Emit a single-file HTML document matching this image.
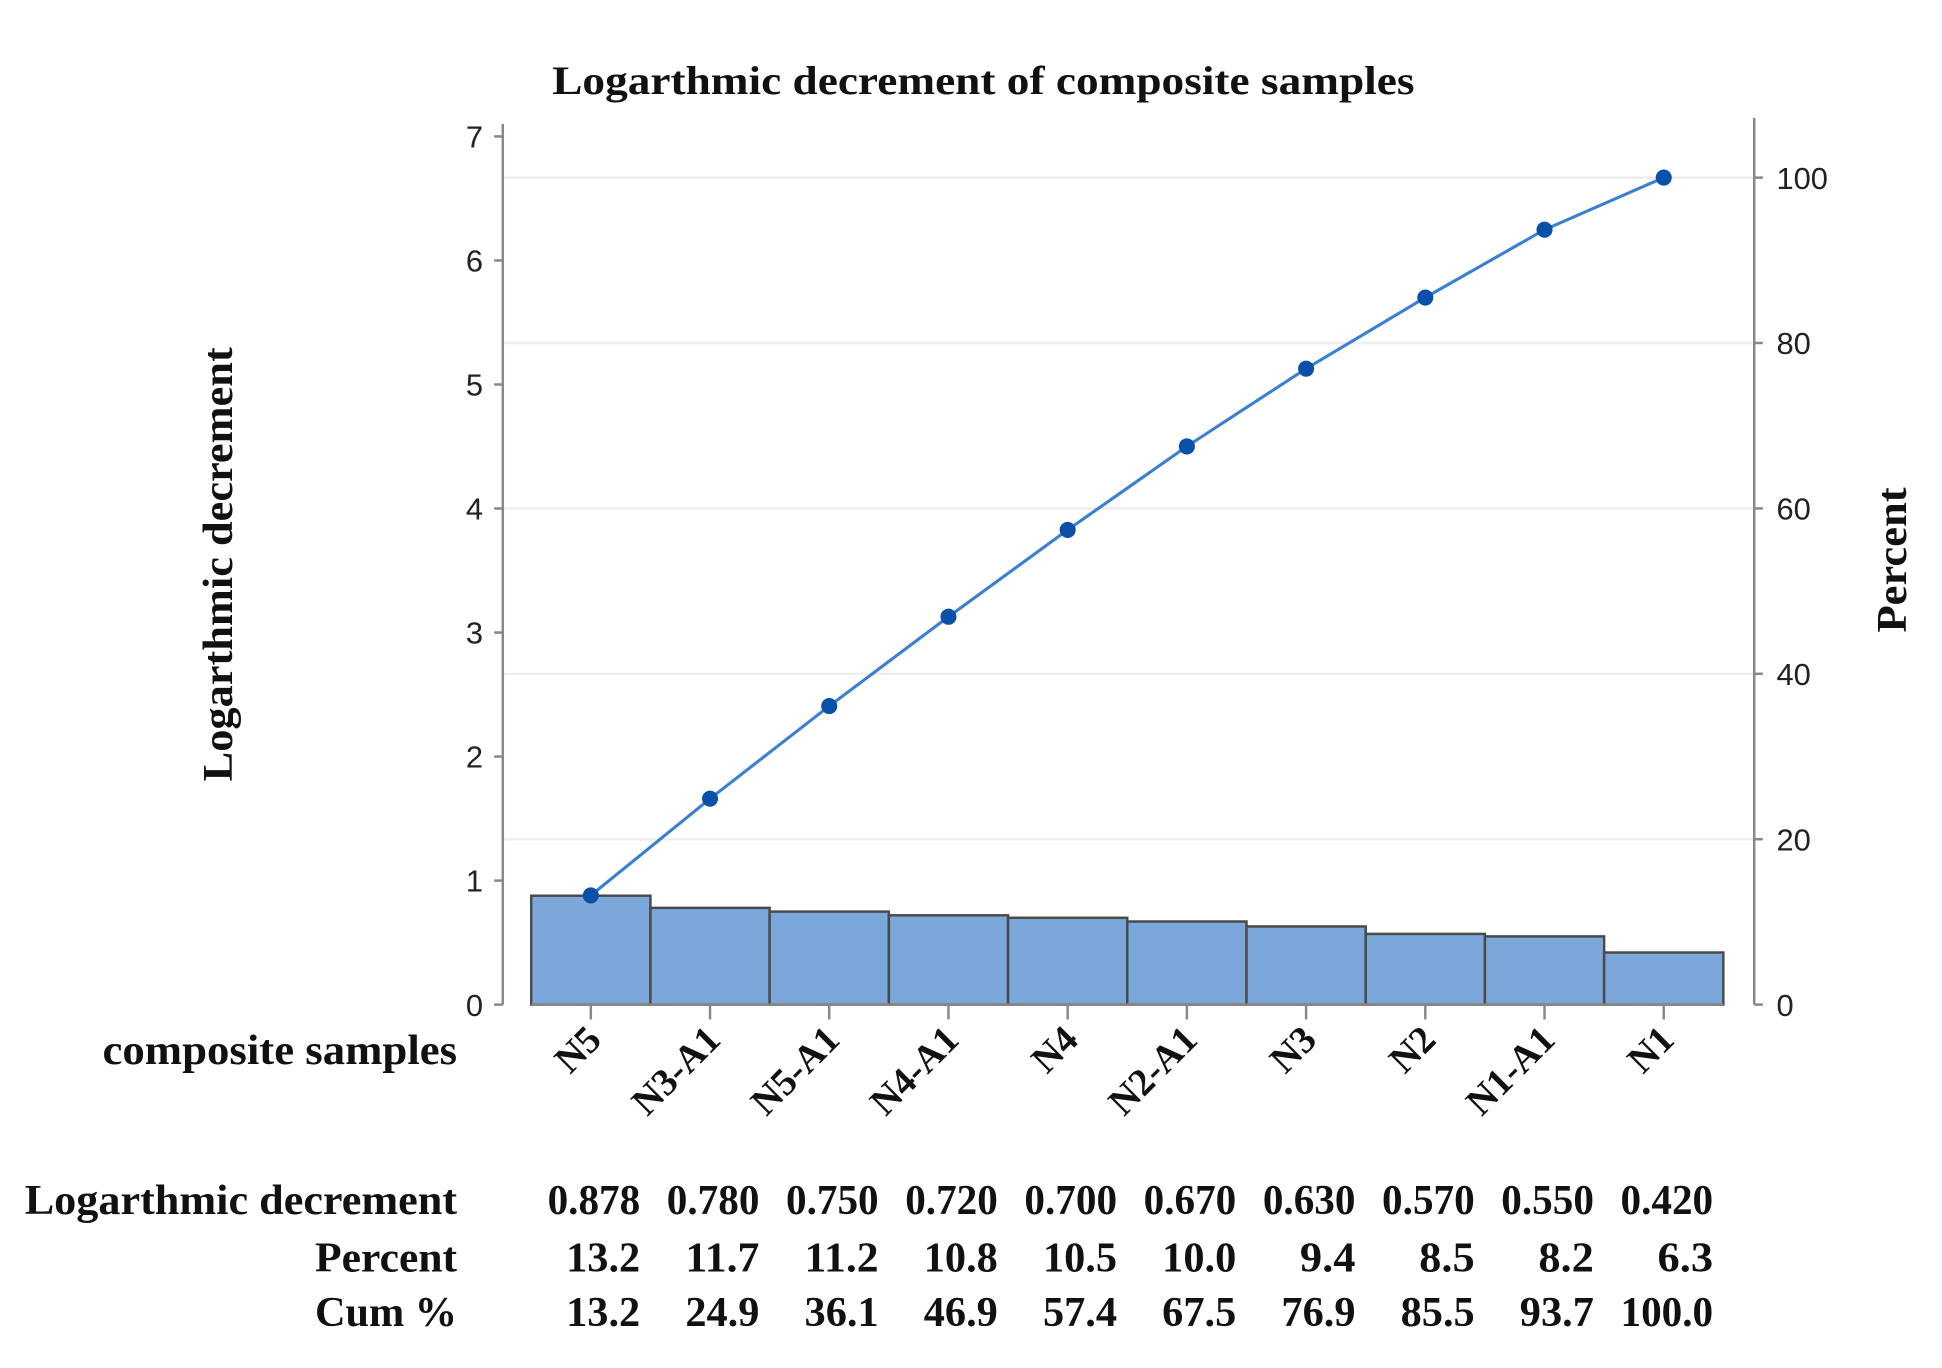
<!DOCTYPE html>
<html><head><meta charset="utf-8"><style>
html,body{margin:0;padding:0;background:#fff;}
svg{display:block;}
.tk{font-family:"Liberation Sans",sans-serif;font-size:25px;fill:#222;}
.sf{font-family:"Liberation Serif",serif;fill:#111;}
</style></head><body>
<svg id="chart" width="1942" height="1368" viewBox="0 0 1572 1103" preserveAspectRatio="none" xmlns="http://www.w3.org/2000/svg">
<text class="sf" x="447" y="76" textLength="698" lengthAdjust="spacingAndGlyphs" font-size="32" font-weight="bold">Logarthmic decrement  of composite samples</text>
<text class="sf" transform="translate(188,630) rotate(-90)" textLength="350" lengthAdjust="spacingAndGlyphs" font-size="34" font-weight="bold">Logarthmic decrement</text>
<text class="sf" transform="translate(1543,510) rotate(-90)" textLength="117" lengthAdjust="spacingAndGlyphs" font-size="34" font-weight="bold">Percent</text>
<text class="sf" x="83" y="858" textLength="287" lengthAdjust="spacingAndGlyphs" font-size="34" font-weight="bold">composite samples</text>
<g id="grid"></g><g id="bars"></g><g id="axes"></g><g id="line"></g><g id="xlabels"></g><g id="table"></g>
</svg>
<script>
const categories=["N5","N3-A1","N5-A1","N4-A1","N4","N2-A1","N3","N2","N1-A1","N1"];
const values=[0.878,0.780,0.750,0.720,0.700,0.670,0.630,0.570,0.550,0.420];
const percents=["13.2","11.7","11.2","10.8","10.5","10.0","9.4","8.5","8.2","6.3"];
const cumPercents=[13.2,24.9,36.1,46.9,57.4,67.5,76.9,85.5,93.7,100.0];
const leftTicks=[0,1,2,3,4,5,6,7];
const rightTicks=[0,20,40,60,80,100];
const NS="http://www.w3.org/2000/svg";
const X0=430,X1=1395,Y0=810,PX=100,LX=407,RX=1420;
const total=values.reduce((a,b)=>a+b,0);
const bw=(X1-X0)/categories.length;
function xc(i){return X0+bw*(i+0.5);}
function yL(v){return Y0-v*PX;}
function yP(p){return yL(p/100*total);}
function mk(tag,attrs,parent){const e=document.createElementNS(NS,tag);for(const k in attrs)e.setAttribute(k,attrs[k]);document.getElementById(parent).appendChild(e);return e;}
rightTicks.forEach(t=>{if(t>0){const g=mk('line',{x1:LX,x2:RX,y1:yP(t),y2:yP(t),stroke:'#eeeeee','stroke-width':2},'grid');

}});
values.forEach((v,i)=>{const r=mk('rect',{x:X0+bw*i,y:yL(v),width:bw,height:v*PX,fill:'#7ba7db',stroke:'#4a4a4a','stroke-width':2},'bars');

});
let a=mk('line',{x1:LX,x2:LX,y1:100,y2:Y0,stroke:'#888','stroke-width':2},'axes');


a=mk('line',{x1:RX,x2:RX,y1:95,y2:Y0,stroke:'#888','stroke-width':2},'axes');


a=mk('line',{x1:X0,x2:X1,y1:Y0,y2:Y0,stroke:'#888','stroke-width':2},'axes');


leftTicks.forEach(t=>{mk('line',{x1:LX-7,x2:LX,y1:yL(t),y2:yL(t),stroke:'#888','stroke-width':2},'axes');
const tx=mk('text',{x:LX-16,y:yL(t)+9,'text-anchor':'end',class:'tk'},'axes');tx.textContent=t;

});
rightTicks.forEach(t=>{mk('line',{x1:RX,x2:RX+7,y1:yP(t),y2:yP(t),stroke:'#888','stroke-width':2},'axes');
const tx=mk('text',{x:RX+18,y:yP(t)+9,'text-anchor':'start',class:'tk'},'axes');tx.textContent=t;

});
const pts=cumPercents.map((c,i)=>xc(i)+','+yP(c)).join(' ');
const pl=mk('polyline',{points:pts,fill:'none',stroke:'#3a7fd0','stroke-width':2.5},'line');


cumPercents.forEach((c,i)=>{const p=mk('circle',{cx:xc(i),cy:yP(c),r:6.5,fill:'#0a4fa8'},'line');

});
categories.forEach((c,i)=>{mk('line',{x1:xc(i),x2:xc(i),y1:Y0,y2:Y0+12,stroke:'#888','stroke-width':2},'xlabels');
const tx=mk('text',{transform:`translate(${xc(i)+10},840) rotate(-45)`,'text-anchor':'end',class:'sf','font-size':31,'font-weight':'bold'},'xlabels');tx.textContent=c;

});
const rows=[["Logarthmic decrement",values.map(v=>v.toFixed(3)),979,350],["Percent",percents,1025,115],["Cum %",cumPercents.map(v=>v.toFixed(1)),1069,115]];
rows.forEach(r=>{const h=mk('text',{x:370,y:r[2],'text-anchor':'end',class:'sf','font-size':34,'font-weight':'bold',textLength:r[3],lengthAdjust:'spacingAndGlyphs'},'table');h.textContent=r[0];


r[1].forEach((v,i)=>{const t=mk('text',{x:xc(i)+40,y:r[2],'text-anchor':'end',class:'sf','font-size':34,'font-weight':'bold',textLength:v.length*15,lengthAdjust:'spacingAndGlyphs'},'table');t.textContent=v;

});});
</script>
</body></html>
